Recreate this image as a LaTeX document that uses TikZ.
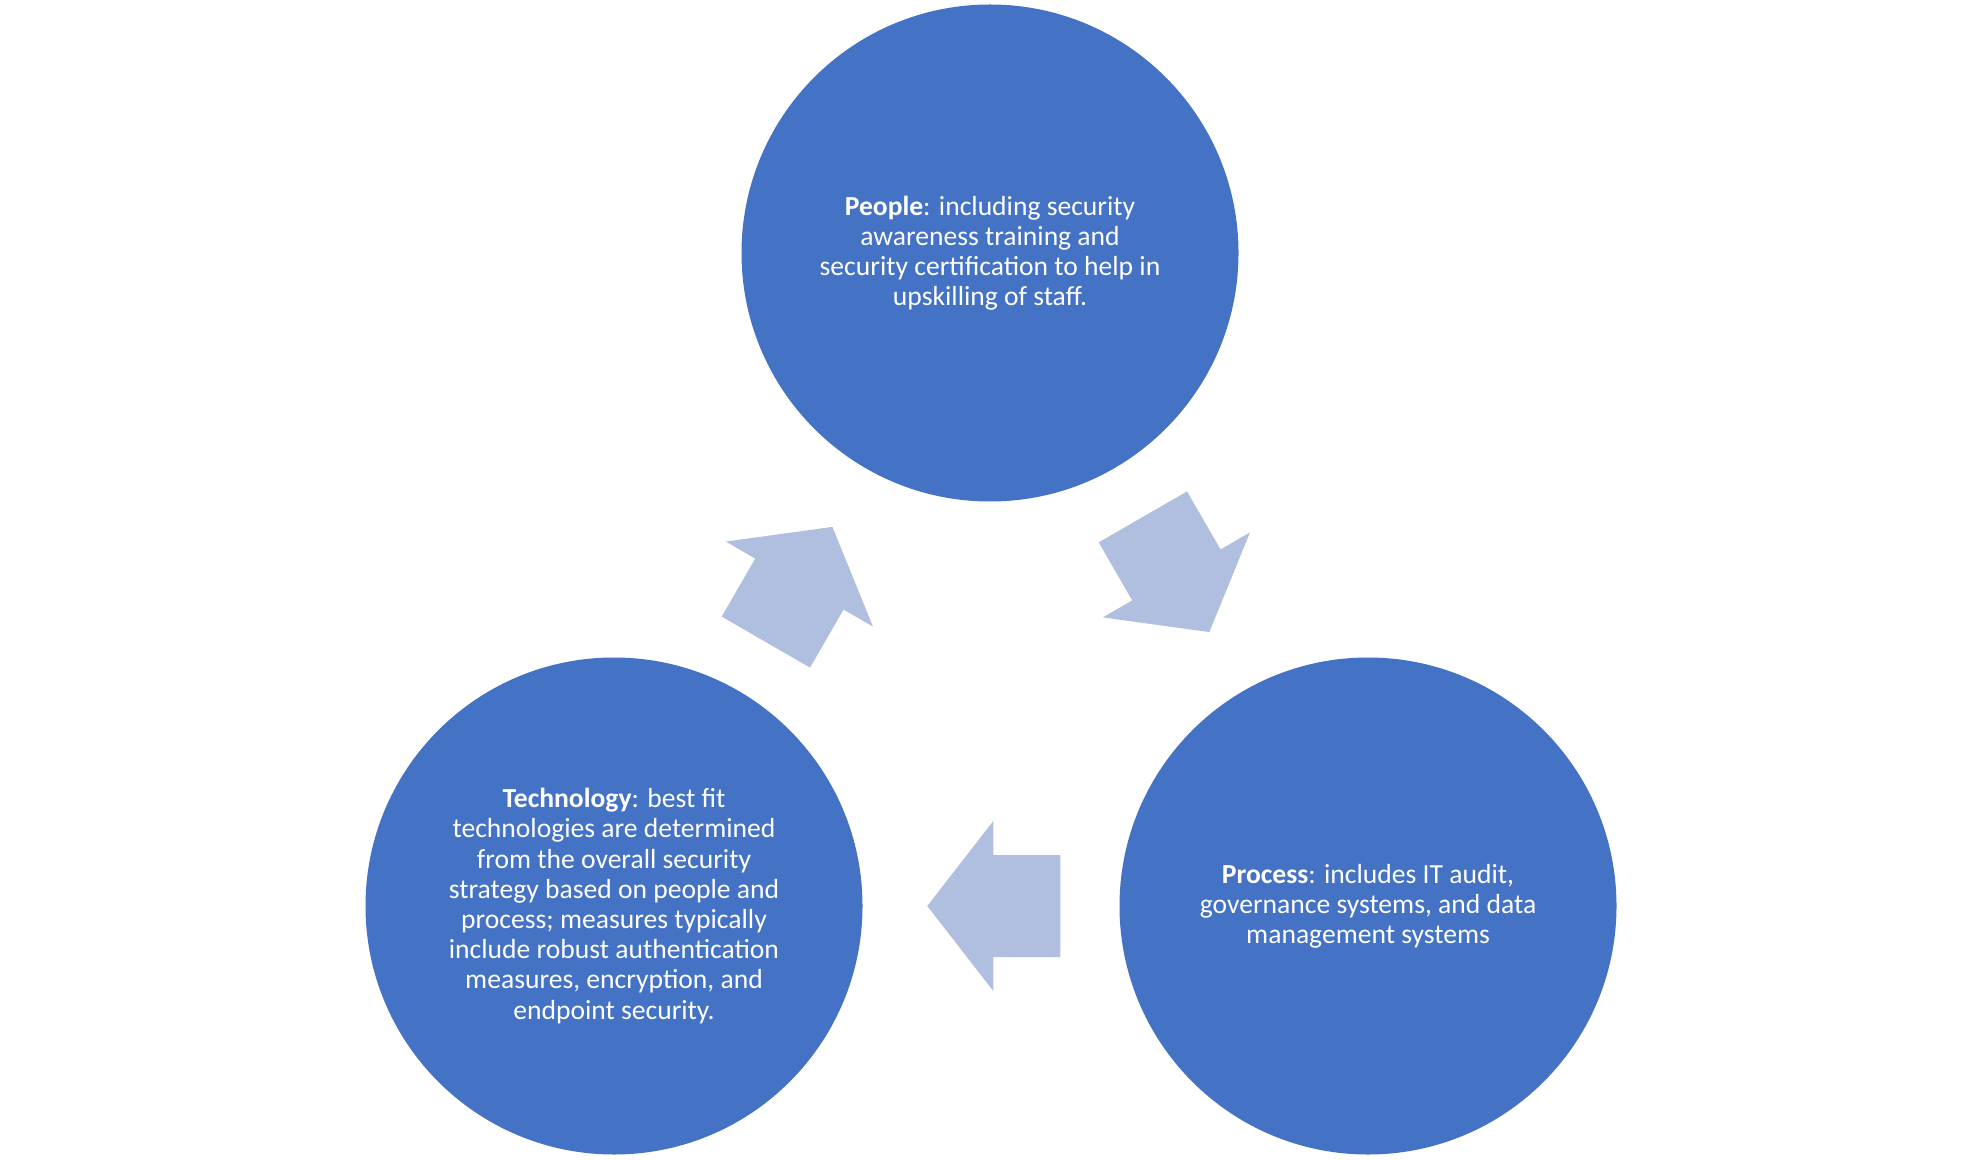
\documentclass[tikz,border=0pt]{standalone}
\usepackage{fontspec}
\setmainfont{Carlito}
\usetikzlibrary{calc}
\definecolor{circblue}{RGB}{68,114,196}
\definecolor{arrblue}{RGB}{176,190,223}
\tikzset{
  circ/.style={circle, fill=circblue, minimum size=248.5pt, inner sep=0pt, text=white, align=center, font=\fontsize{13.8}{15.1}\selectfont},
  pics/blockarr/.style={code={\fill[arrblue] (-67,-51) -- (0,-51) -- (0,-85) -- (66,0) -- (0,85) -- (0,51) -- (-67,51) -- cycle;}}
}
\begin{document}
\begin{tikzpicture}[x=0.5pt,y=-0.5pt]
\useasboundingbox (0,0) rectangle (1980,1160);
\node[circ] (people) at (990,253) {\textbf{People}: including security\\awareness training and\\security certification to help in\\upskilling of staff.};
\node[circ] (tech) at (614,906) {\textbf{Technology}: best fit\\technologies are determined\\from the overall security\\strategy based on people and\\process; measures typically\\include robust authentication\\measures, encryption, and\\endpoint security.};
\node[circ] (process) at (1368,906) {\textbf{Process}: includes IT audit,\\governance systems, and data\\management systems};
\pic[rotate=60] at ($(tech)!0.493!(people)$) {blockarr};
\pic[rotate=-60] at ($(people)!0.493!(process)$) {blockarr};
\pic[rotate=180] at ($(process)!0.497!(tech)$) {blockarr};
\end{tikzpicture}
\end{document}
